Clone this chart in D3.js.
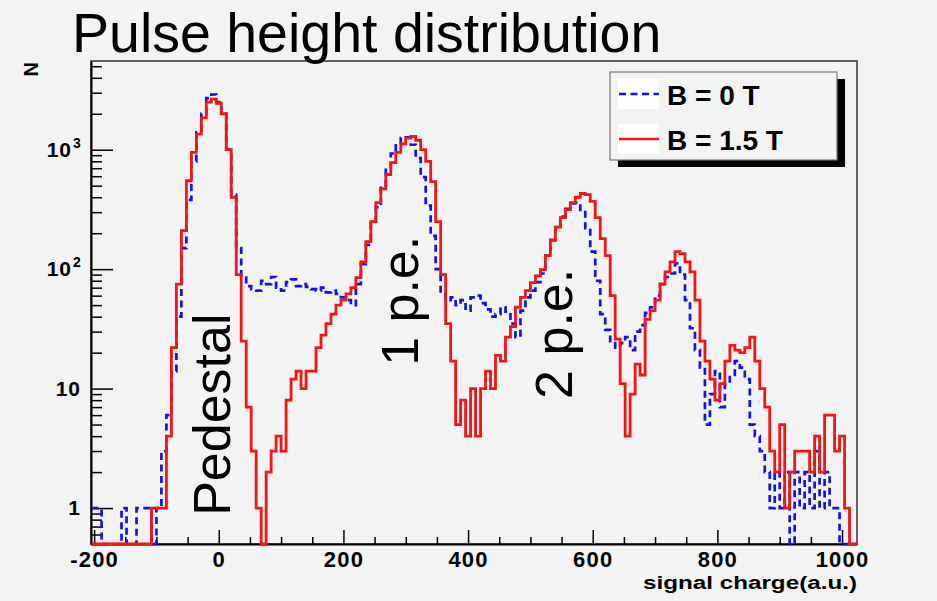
<!DOCTYPE html>
<html><head><meta charset="utf-8">
<script src="https://cdn.jsdelivr.net/npm/d3@7/dist/d3.min.js"></script>
<style>
body{margin:0;background:#f3f3f3;}
svg{display:block;font-family:"Liberation Sans",Arial,Helvetica,sans-serif;}
</style>
</head><body>
<svg id="chart" width="937" height="601"></svg>
<script>
// ---- data ----
const title = "Pulse height distribution";
const xTitle = "signal charge(a.u.)";
const yTitle = "N";
const seriesNames = ["B = 0 T", "B = 1.5 T"];
const binStart = -204;      // lower edge of first bin
const binWidth = 8;         // bin width (a.u.)
// bin centres: -200, -192, ..., 1024 (154 bins)
const countsB0 = [
  1,1,0,0,0,0,1,0,0,1,
  1,1,0,1,3,6,14,40,150,380,
  800,1400,2000,2700,2900,2500,2000,1000,420,150,
  85,72,68,66,80,75,86,70,66,78,
  82,72,75,71,68,66,70,64,66,62,
  58,55,50,75,110,160,240,330,500,700,
  930,1120,1250,1270,1100,850,590,340,190,100,
  65,55,58,50,55,45,58,60,52,46,
  40,42,48,44,35,27,45,58,66,78,
  92,130,175,220,275,320,355,360,300,220,
  140,80,42,31,24,22,24,27,21,30,
  34,43,48,60,75,86,92,112,90,55,
  32,21,15,5,9,14,7,11,13,17,
  15,12,5,4,3,2,1,2,1,2,
  0,2,1,2,1,3,1,2,1,1,
  0,0,0,0
];
const countsB15 = [
  0,0,0,0,0,0,0,0,0,0,
  0,0,1,1,1,4,22,75,210,550,
  950,1350,1850,2500,2650,2450,2000,1000,400,90,
  25,7,3,1,0,2,3,4,3,8,
  12,14,10,14,14,22,28,35,42,50,
  55,62,70,85,115,170,250,360,470,620,
  780,950,1120,1250,1290,1200,1000,800,540,250,
  90,35,17,5,8,4,10,4,10,14,
  10,19,17,27,33,48,58,66,77,88,
  99,130,175,225,270,315,360,400,430,420,
  370,270,180,130,60,26,11,4,9,16,
  13,38,45,55,75,95,115,140,135,115,
  95,55,25,17,12,8,11,17,23,21,
  20,22,27,17,10,7,3,2,5,1,
  2,3,3,3,2,4,2,6,6,3,
  4,1,0,0
];
const xDomain = [-205, 1024];
const yDomain = [0.5, 5530];
const xMajorTicks = [-200, 0, 200, 400, 600, 800, 1000];
const yMajorTicks = [1, 10, 100, 1000];
const yTickBase = ["1", "10", "10", "10"];
const yTickExp  = ["", "", "2", "3"];
// label anchors in data coordinates (baseline start of rotated text)
const annotations = [
  {text: "Pedestal", x: 18, y: 0.86},
  {text: "1 p.e.", x: 319, y: 15.5},
  {text: "2 p.e.", x: 566, y: 8.2}
];

// ---- layout ----
const svg = d3.select("#chart");
const L = 91, R = 857, T = 61, B = 544;
const x = d3.scaleLinear().domain(xDomain).range([L, R]);
const y = d3.scaleLog().domain(yDomain).range([B, T]);

svg.append("rect").attr("width", 937).attr("height", 601).attr("fill", "#f3f3f3");

// frame
svg.append("rect").attr("x", L).attr("y", T).attr("width", R - L).attr("height", B - T)
  .attr("fill", "none").attr("stroke", "#333").attr("stroke-width", 1.5);

// x minor ticks (every 50)
const xMinor = d3.range(-200, 1001, 50).filter(v => v % 200 !== 0);
const gxMinor = svg.append("g").attr("transform", `translate(0,${B})`)
  .call(d3.axisBottom(x).tickValues(xMinor).tickSize(-7).tickSizeOuter(0).tickFormat(""));
gxMinor.select(".domain").remove();
const gx = svg.append("g").attr("transform", `translate(0,${B})`)
  .call(d3.axisBottom(x).tickValues(xMajorTicks).tickSize(-14).tickSizeOuter(0).tickPadding(7)
    .tickFormat(d => String(d)));
gx.select(".domain").attr("stroke", "#000").attr("stroke-width", 2);
gx.selectAll(".tick line").attr("stroke", "#000").attr("stroke-width", 1.5);
gxMinor.selectAll(".tick line").attr("stroke", "#000").attr("stroke-width", 1.5);
gx.selectAll("text").attr("font-size", 22).attr("font-weight", "bold").attr("fill", "#000")
  .attr("letter-spacing", "1.2px")
  .attr("font-family", "Liberation Sans, Arial, sans-serif").attr("dy", "0.72em");

// y minor ticks
const yMinor = [];
[0.1, 1, 10, 100, 1000].forEach(dec => { for (let k = 2; k <= 9; k++) { const v = dec * k; if (v >= yDomain[0] && v <= yDomain[1]) yMinor.push(v); } });
const gyMinor = svg.append("g").attr("transform", `translate(${L},0)`)
  .call(d3.axisLeft(y).tickValues(yMinor).tickSize(-11).tickSizeOuter(0).tickFormat(""));
gyMinor.select(".domain").remove();
gyMinor.selectAll(".tick line").attr("stroke", "#000").attr("stroke-width", 1.5);
const gy = svg.append("g").attr("transform", `translate(${L},0)`)
  .call(d3.axisLeft(y).tickValues(yMajorTicks).tickSize(-22).tickSizeOuter(0).tickFormat(""));
gy.select(".domain").attr("stroke", "#000").attr("stroke-width", 2);
gy.selectAll(".tick line").attr("stroke", "#000").attr("stroke-width", 1.5);

// y tick labels with superscripts
yMajorTicks.forEach((v, i) => {
  svg.append("text").attr("x", yTickExp[i] ? 72 : 81).attr("y", y(v) + 7)
    .attr("text-anchor", "end").attr("font-size", 21).attr("font-weight", "bold")
    .attr("letter-spacing", "1px").attr("fill", "#000").text(yTickBase[i]);
  if (yTickExp[i]) {
    svg.append("text").attr("x", 73).attr("y", y(v) - 2).attr("font-size", 14)
      .attr("font-weight", "bold").attr("fill", "#000").text(yTickExp[i]);
  }
});

// histograms
const clip = svg.append("clipPath").attr("id", "plotclip");
clip.append("rect").attr("x", L).attr("y", T).attr("width", R - L).attr("height", B - T + 2);

function stepPoints(counts) {
  const pts = counts.map((c, i) => [binStart + i * binWidth, c]);
  pts.push([binStart + counts.length * binWidth, counts[counts.length - 1]]);
  return pts;
}
const line = d3.line()
  .x(d => x(d[0]))
  .y(d => y(Math.max(d[1], yDomain[0])))
  .curve(d3.curveStepAfter);

const gh = svg.append("g").attr("clip-path", "url(#plotclip)");
gh.append("path").attr("d", line(stepPoints(countsB0))).attr("fill", "none")
  .attr("stroke", "#1212e6").attr("stroke-width", 2.7).attr("stroke-dasharray", "7,4.5");
gh.append("path").attr("d", line(stepPoints(countsB15))).attr("fill", "none")
  .attr("stroke", "#f41414").attr("stroke-width", 2.8);

// annotations (vertical text)
annotations.forEach(a => {
  svg.append("text").attr("transform", `translate(${x(a.x)},${y(a.y)}) rotate(-90)`)
    .attr("font-size", 52).attr("fill", "#000").text(a.text);
});

// title
svg.append("text").attr("x", 72).attr("y", 52).attr("font-size", 55.5).attr("fill", "#000").text(title);

// axis titles
svg.append("text").attr("x", R).attr("y", 589).attr("text-anchor", "end")
  .attr("font-size", 18).attr("font-weight", "bold").attr("fill", "#000")
  .attr("textLength", 214).attr("lengthAdjust", "spacingAndGlyphs").text(xTitle);
svg.append("text").attr("transform", `translate(38,62) rotate(-90)`).attr("text-anchor", "end")
  .attr("font-size", 20).attr("font-weight", "bold").attr("fill", "#000").text(yTitle);

// legend
const lg = svg.append("g");
lg.append("rect").attr("x", 618).attr("y", 79).attr("width", 227).attr("height", 88).attr("fill", "#000");
lg.append("rect").attr("x", 610).attr("y", 72).attr("width", 227).attr("height", 88)
  .attr("fill", "#f3f3f3").attr("stroke", "#777").attr("stroke-width", 1.2);
const legendRows = [
  {name: seriesNames[0], color: "#1212e6", dash: "7,4.5", cy: 94},
  {name: seriesNames[1], color: "#f41414", dash: null, cy: 139}
];
legendRows.forEach(r => {
  lg.append("rect").attr("x", 618).attr("y", r.cy - 15).attr("width", 41).attr("height", 30).attr("fill", "#fff");
  lg.append("line").attr("x1", 619).attr("x2", 659).attr("y1", r.cy).attr("y2", r.cy)
    .attr("stroke", r.color).attr("stroke-width", 2.5).attr("stroke-dasharray", r.dash);
  lg.append("text").attr("x", 667).attr("y", r.cy + 11).attr("font-size", 28).attr("font-weight", "bold")
    .attr("fill", "#000").text(r.name);
});
</script>
</body></html>
